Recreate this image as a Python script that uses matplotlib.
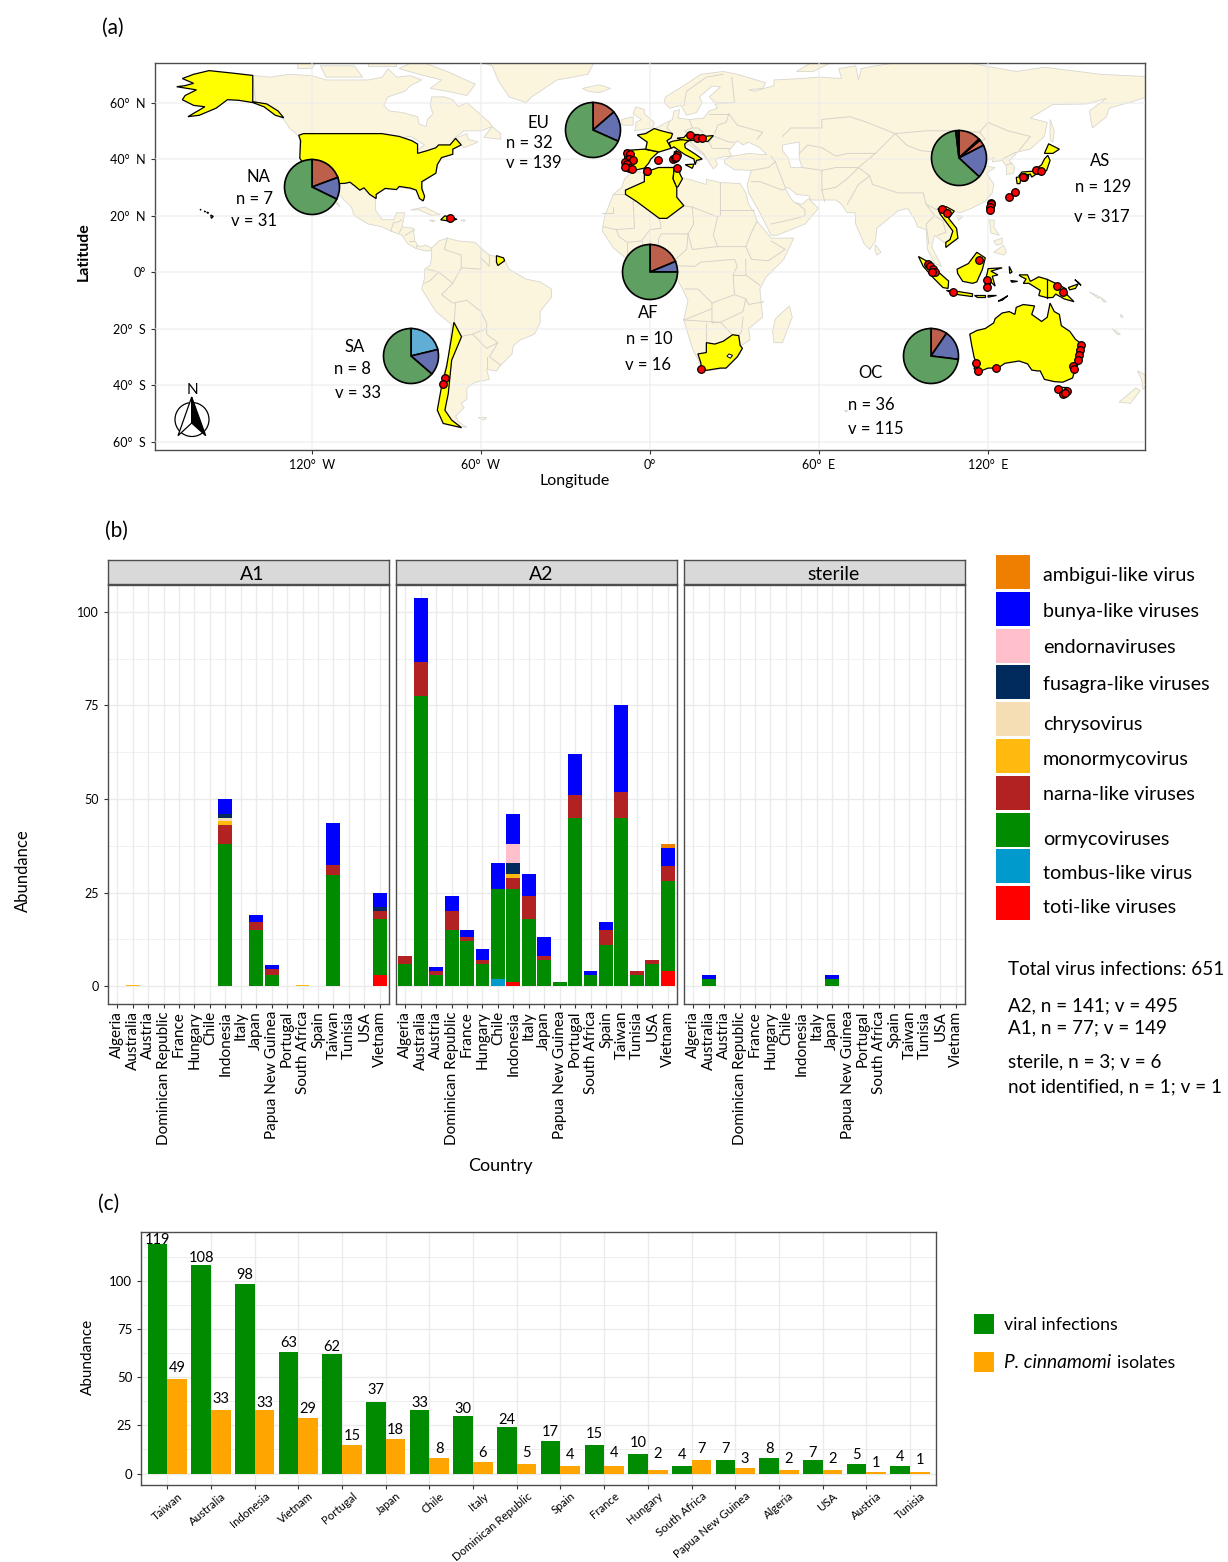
"""Figura (a) mapa, (b) barras empilhadas por mating type, (c) infeccoes x isolados."""
import matplotlib

matplotlib.use("Agg")
import matplotlib.pyplot as plt
import numpy as np
from matplotlib.patches import Circle, Polygon, Rectangle
from matplotlib.transforms import IdentityTransform, ScaledTranslation

plt.rcParams["font.family"] = ["Lato", "DejaVu Sans"]

W, H = 1228, 1562

# ---------- (a) geografia (lon, lat), contornos grosseiros ----------
LAND = [
    # America do Norte
    [(-141,69.6),(-135,69),(-128,70),(-120,69.5),(-115,68),(-108,68),(-100,68),(-95,69),(-93,72),(-90,69),(-85,69.5),(-81,68),(-85,66),(-87,64),(-93,62),(-94.5,59),(-92.5,57),(-88,56.5),(-82.5,55),(-82,52.5),(-79.5,51.5),(-79,54),(-77,56),(-78,59),(-77.5,62),(-73,62),(-70,61),(-68,58.5),(-65,60),(-61,56.5),(-57,53),(-56,51.5),(-60,50),(-66,50),(-70,47),(-65,49),(-64.5,47),(-61,46),(-66,44),(-67,45),(-70,43.5),(-75,40),(-76,35),(-81,31.5),(-80,26),(-81,25),(-83,29),(-89,30),(-94,29.5),(-97.5,27),(-97.5,22),(-95,18.5),(-91,18.5),(-90,21),(-87,21),(-88,16),(-84,15.5),(-83.5,11),(-82,9),(-79.5,9.5),(-77.5,8.5),(-78,7.5),(-80,7.5),(-83,8.3),(-86,10),(-88,13),(-92,14.5),(-95,16),(-100,17),(-105,20),(-106,23),(-109,26),(-112.5,30),(-114.5,31.5),(-113,28),(-110,23),(-112,25),(-115,29),(-117,32.5),(-120.5,34.5),(-124,40),(-124.5,48),(-128,51),(-130,54),(-134,58),(-140,60)],
    # America do Sul
    [(-77.5,8.5),(-75,11),(-72,12),(-68,11),(-62,10.5),(-60,8.5),(-57,6),(-52,5),(-50,1),(-44,-2.5),(-39,-3.5),(-35,-6),(-35,-9),(-39,-14),(-39,-18),(-41,-22),(-46,-24),(-48.5,-26),(-49,-29),(-53,-33),(-54.5,-35),(-58,-34.5),(-57,-38),(-62,-39),(-65,-41),(-65,-45),(-67,-46.5),(-66,-48),(-69,-51),(-68,-53),(-65,-55),(-72,-54),(-75,-50),(-73,-42),(-73.5,-37),(-71.5,-30),(-70.5,-18.5),(-76,-14),(-81,-6),(-80,-2),(-80,1),(-78,2.5),(-77.5,5.5)],
    # Eurasia
    [(-9,43),(-2,43.5),(-1,46),(-4.5,48.5),(1.5,50.5),(4,52),(8,54),(8.5,57),(10.5,57.5),(10,54.5),(14,54),(19,54.5),(21,57),(24,58),(23,59.5),(30,60),(23,60),(21,62),(25,65.5),(22,65.8),(17.5,62),(18.5,60),(16.5,56.5),(13,55.5),(11,59),(7,58),(5,60),(5.5,62),(12,66),(18,70),(26,71),(31,70),(41,67),(40,65),(35,64.5),(37,64),(44,66),(44,68),(54,68.5),(60,69),(68,68.5),(67,72),(73,73),(74,68),(75,72),(80,73),(87,74),(100,76),(113,74),(130,71),(140,72.5),(160,70),(170,69.5),(180,69),(180,65),(178,62.5),(170,60),(163,58),(162,55),(157,51),(156,57),(162,61.5),(155,59.5),(143,59.3),(135,54.5),(141,53),(140,48),(135,43.5),(130.5,42.5),(127.5,39.5),(129.5,37),(129,35),(126.5,34.5),(126.5,37.5),(125,39.5),(121.5,39),(122,40.5),(118,39),(119,37.5),(122.5,37),(119.5,35),(122,31),(121.5,28),(119,25),(114,22.5),(110,21),(108,21.5),(106,19),(109,15),(109,11.5),(105,8.7),(105,10),(101,13),(100,9),(103.5,2),(101,3),(98.5,8),(98,15),(95,16),(94,18.5),(91.5,22.5),(88,21.7),(86,20),(80.5,15.5),(80,11),(78,8),(76,10),(73,17),(72.8,21),(70,21),(68,24),(66,25.5),(57,25.5),(56.5,27),(52,27.5),(49,30),(48,29.5),(50,26),(51.5,24.5),(54,24),(56.3,26),(59.8,22.5),(55,17),(45,13),(43,13),(39,21),(35,28),(34.5,31),(36,36),(30,36.2),(26.5,38.5),(26.5,40),(29,41),(35,42),(41.5,41.5),(39,44),(37,45),(35,46),(33,45),(31,46.5),(28,43),(29,41),(26,40.8),(23,40),(24,38),(22.5,36.5),(19.5,41),(14,45),(12.3,45),(12.5,44),(16,41.5),(18.5,40),(16,38),(15.5,40),(10.5,43),(8,44),(3.5,43),(0,40),(-2,36.8),(-5.5,36),(-9,37)],
    # Africa
    [(-6,35.8),(-2,35.2),(3,37),(10,37.3),(11,33.5),(15,32.5),(20,31),(20,32.8),(25,31.7),(32,31.3),(34,28),(35,24),(37,21),(38,18),(43,12),(51,12),(47.5,4.5),(41,-2),(39,-6),(40,-16),(35,-20),(35.5,-24),(32.5,-26),(32,-29),(27,-34),(20,-35),(18,-33),(15,-27),(12,-17),(13.5,-10),(9,-1),(9.5,4),(4,6.2),(-4,5),(-8,4.5),(-13,8.5),(-17,14.7),(-16,20),(-13,27.5),(-10,30),(-9,33)],
    # ilhas
    [(-72,78),(-55,82),(-25,82),(-20,74),(-22,70),(-33,68),(-42,62),(-44,60),(-50,62),(-54,68),(-56,73),(-65,76)],
    [(-80,74),(-72,71),(-62,66.5),(-65,62.5),(-72,64),(-78,65),(-74,68),(-82,70),(-89,72),(-85,74)],
    [(-117,73),(-105,73),(-102,69),(-115,69)],
    [(-125,75),(-118,75),(-120,72),(-125,72)],
    [(-100,75),(-90,75),(-90,73),(-100,73)],
    [(-59,47.7),(-53,47),(-53,49),(-56,51.5)],
    [(-24,65),(-18,66.3),(-14,65),(-18,63.5),(-22,64)],
    [(-5.5,50),(1,51),(1.5,53),(-2,56),(-2,57.5),(-5,58.5),(-6,56),(-3,54),(-5,53),(-5,51.5)],
    [(-10,52),(-6,52),(-6,55),(-10,54)],
    [(49.5,-12),(50.5,-16),(47,-25),(44,-25),(43.5,-21),(44.5,-16.5)],
    [(80,9.7),(82,7),(80.5,6),(79.8,8)],
    [(173,-35),(178.5,-37.8),(175,-41.5),(174.5,-38)],
    [(172.5,-41),(174,-42),(170.5,-46.5),(166.5,-46)],
    [(120.5,18.5),(122.3,18.3),(122,16),(124,13),(121,13.8)],
    [(122,7),(125.5,9.5),(126.5,7),(125.5,6)],
    [(122,11),(125,12),(125,10),(123,9.5)],
    [(-85,22),(-80,23),(-74.5,20.3),(-77.5,20),(-82,22)],
    [(-78.3,18.4),(-76.3,18.2),(-77,17.8)],
    [(-67.2,18.5),(-65.6,18.4),(-66,17.9)],
    [(52,71),(57,74),(68,76),(58,71)],
    [(142,54),(143.5,50),(143,46),(142,47),(142,52)],
    [(109,20),(111,19.7),(109.5,18.3)],
    [(-61,-51.5),(-58,-51.5),(-59,-52.4)],
    [(69,-49),(70.3,-49),(69.6,-49.6)],
    [(164,-20),(167,-22),(166,-22.2)],
    [(156,-7),(160,-9),(159,-9.3)],
    [(160,-9),(162,-10.5),(161,-10.6)],
    [(167,-15),(168,-16),(167.2,-16)],
    [(177.3,-17.5),(178.6,-18),(177.5,-18.2)],
]
LAKES = [[(47,45),(53,46),(53,40),(54,37),(50,37),(49,40.5),(47,43)],
         [(-92,47),(-85,48),(-80,45),(-84,42),(-87,42),(-85,46)]]
BORDERS = [
    [(-8.7,27.5),(-13,27.5)],[(-16.5,16),(-12,15),(-5.5,15.5),(-6,25),(-4.8,25)],[(-13,23),(-13,21),(-17,21)],
    [(3.3,19),(4,15.5),(0,15),(-3,11),(-8,10.5),(-11,12.5),(-12,15)],[(12,23.5),(15,23),(15.5,17),(13.5,13.5),(4,13.5),(3,11.7)],
    [(25,31.7),(25,20),(24,19.5),(15,23)],[(25,22),(37,22)],[(24,19.5),(22.5,13),(24,9),(15,8),(13.5,13.5)],
    [(24,9),(34,9),(36,14),(38,18)],[(34,9),(36,4.5),(42,4),(48,8),(43,11)],[(3,6.3),(3,11.7)],[(9,4.5),(13,8),(13.5,13.5)],
    [(-3,5),(-3,11)],[(1,6),(0,11)],[(-8,4.5),(-8,10.5)],[(9,2.2),(16,2),(18,3.5),(30,4.5),(31,2),(29.5,-1),(30,-8),(22,-11),(22,-13),(12,-17)],
    [(12.5,-6),(17,-6),(22,-11)],[(34,4.5),(34,-1),(39,-4.7)],[(34,-1),(29.5,-1)],[(40.4,-10.5),(35,-11.5),(34,-9.5),(30,-8)],
    [(22,-13),(22,-18),(25,-17.8),(33,-14),(34,-9.5)],[(12,-17),(25,-17.8)],[(20,-18),(20,-28.5)],[(25,-17.8),(29.3,-22.2)],[(33,-16),(32.5,-21),(31.5,-22.5)],
    [(28,56),(31,52),(40,49.5),(38,47)],[(47,48),(50,51),(61,51),(61,54),(71,55),(77,53),(87,49),(98,50),(107,50),(117,49.5),(120,53),(127,50),(135,48),(131,43)],
    [(53,42),(56,45),(61,44),(66,41),(70,42),(80,42),(87,49)],[(87,49),(91,45),(96,43),(105,42),(112,45),(119,47),(117,49.5)],
    [(74,37),(80,42)],[(74,37),(78,34),(79,31),(88,28),(97,28),(98,24),(102,22)],[(61,29),(62,25)],[(61,29),(66,30),(70,33),(74,37)],[(70,24),(74,31),(78,34)],
    [(61,29),(61,36),(54,37)],[(44.5,39),(46,35),(48,30)],[(36,36),(42,37),(44.5,39),(43,41)],[(36,32),(39,32),(47,29),(48,29.5)],[(52,24.5),(55,22),(55,20),(52,19),(43,17)],
    [(98,24),(101,20),(98,17),(99,10)],[(101,20),(104,18),(105,14),(102,13)],[(125,40),(130,42.5)],[(126.7,38),(128.5,38.5)],[(61,36),(66,37),(74,37)],
    [(28,56),(27,53),(24,52),(23,49)],[(14,54),(15,51),(17,51),(18.8,49.5)],[(7,53.3),(6,51),(8,49)],[(15,51),(12.3,50),(13.8,48.7)],[(21,56),(28,56)],
    [(23,48),(28,46),(30,46)],[(22,44),(28,44)],[(22.5,48.3),(21,46),(22,44)],[(13.7,46.5),(19,42),(20,40)],[(30,60),(29,69)],[(12,59),(13,64),(20,69),(26,70)],
    [(-72,12),(-73,8),(-67,6),(-67,1.5)],[(-60,5),(-60,1),(-67,1.5),(-70,-4),(-74,-8),(-70,-11),(-65,-10),(-60,-14),(-58,-18),(-58,-22),(-54,-25),(-57,-30),(-53,-33)],
    [(-79,1),(-75,0),(-78,-3),(-80,-4)],[(-75,0),(-70,-4)],[(-60,8.5),(-60,5),(-57,2),(-57,6)],[(-69,-11),(-69.5,-18)],[(-68,-23),(-63,-22),(-58,-20)],
    [(-63,-22),(-58,-27),(-54,-25)],[(-58,-34),(-58,-30)],[(-92,14.5),(-91,17.5),(-89,17.8),(-88.3,18.5)],[(-89,14),(-88,15.7)],[(-87,13),(-83.5,15)],[(-85.5,11),(-83.7,11)],[(-83,8.5),(-82.7,9.5)],
]
SAMPLED = [
    [(-141,69.6),(-148,70.4),(-156.5,71.3),(-162,70),(-166,68.5),(-162,66.8),(-165,66),(-168,65.6),(-161,64.5),(-165,62.5),(-166,61),(-162,59),(-158,58.5),(-164,55),(-160,55.5),(-154,58),(-152,59.5),(-150,61),(-146,60.8),(-141,60),(-137,58.5),(-133,55.5),(-130,54.6),(-132,57),(-136,59.5),(-141,60.3)],
    [(-124.7,48.4),(-123,49),(-95.2,49),(-89,48),(-84.5,46.5),(-82.5,45.3),(-82.5,42),(-79,43),(-76,44),(-75,45),(-71,45),(-69,47.3),(-67,45),(-70,43.5),(-70,41.7),(-74,40.5),(-75.5,38),(-76,35),(-78,33.8),(-81,32),(-81,29.5),(-80,26.8),(-80.5,25.2),(-81.8,26),(-83,29),(-85,29.7),(-89,30.3),(-90,29.2),(-94,29.6),(-97.2,27.5),(-97.2,26),(-99.5,27.5),(-101.5,29.8),(-103,29),(-104.8,30.5),(-106.5,31.8),(-108.2,31.4),(-111,31.3),(-114.7,32.5),(-117.1,32.5),(-120.5,34.5),(-122.5,37.5),(-124.3,40.3),(-124.2,43),(-124,46.5)],
    [(-155.9,20.2),(-155,19.7),(-155.7,19)],[(-157.3,21.2),(-156.7,21),(-157,20.8)],[(-158.2,21.6),(-157.8,21.4),(-158,21.3)],[(-159.7,22.2),(-159.4,22.1),(-159.5,21.9)],
    [(-74.3,18.5),(-72.8,19.9),(-68.5,18.7),(-71,18)],
    [(-54.5,5.8),(-52,5),(-51.6,4),(-54,2.3),(-54.5,3.5)],
    [(-69.6,-17.8),(-66.9,-22.9),(-70.4,-31.2),(-71.6,-43),(-72.8,-48.9),(-70.4,-52.4),(-66.9,-55.1),(-73.4,-53.6),(-75.5,-48.9),(-74,-40.6),(-72.2,-33.5),(-70.4,-22.9)],
    [(-9,43),(-2,43.5),(3,42.5),(0.3,40),(-0.5,38.5),(-2,36.8),(-5.5,36),(-9,37)],
    [(-1.5,43.5),(-1,46),(-4.5,48.5),(-1.5,49),(1.5,50.8),(4,50),(8,49),(7.5,47.5),(6,46.5),(7.5,43.8),(3.2,42.5)],
    [(6.8,45.8),(8,46.3),(12,47),(13.7,46.5),(12.3,45.3),(12.5,44),(16,41.8),(18.5,40),(16.5,39.5),(16,38),(15.6,40),(12.5,41.5),(10.3,43),(8.5,44.3),(7.5,43.8)],
    [(12.5,38),(15.6,38.2),(15,36.7)],[(8.2,41),(9.7,41),(9.6,39.1),(8.5,39)],[(8.6,42.5),(9.5,43),(9.4,41.5),(8.8,41.6)],
    [(9.6,47.4),(12,47.6),(13,48.7),(17,48.7),(18.8,48),(22.5,48.3),(20.5,46.2),(16.3,46.7),(13.7,46.5),(10.5,47)],
    [(-8.7,27.5),(-8.7,29),(-2,32),(-2,35.2),(3,37),(8.6,37),(8.2,33),(9.5,30),(9.5,26.5),(12,23.5),(6,19),(3.3,19),(-4.8,25)],
    [(8.6,37),(11,37.2),(10.5,35),(11.5,33),(10,30.3),(9.5,30),(8.2,33)],
    [(17,-29),(20,-28.5),(20,-25),(23,-25.5),(26,-24.5),(29.3,-22.2),(31.5,-22.5),(32,-26),(32.8,-27),(31,-30),(27,-34),(25,-34),(20,-34.8),(18.3,-34),(18,-32)],
    [(102.2,22.4),(105,23.2),(108,21.6),(106,19),(108.8,15.5),(109.3,12),(107,10.3),(105,8.7),(105,10.5),(106.5,11.5),(107.5,14.5),(104.5,18.5),(103,20.5)],
    [(130.9,34),(132,35.4),(136,35.7),(139,38),(140,40),(141.2,41.3),(142,39.5),(140.8,36),(139.7,35),(137,34.6),(135.5,33.6),(135,34.7),(132,34)],
    [(140,42),(141.5,45.4),(145.3,43.5),(143,42)],[(130,33.5),(131.8,33.8),(131.3,31.3),(130.3,31.3)],[(132.5,33.5),(134.5,34.2),(134.2,33.3),(133,32.8)],
    [(121.5,25.2),(121,22.3),(120.2,23)],
    [(95.3,5.5),(98,4),(103.5,-1),(106,-3.2),(105.8,-5.8),(104,-5.5),(100.5,-2),(97,2)],
    [(105.2,-6.5),(108.7,-6.8),(114.5,-7.7),(114.4,-8.7),(108,-7.8)],
    [(109,1),(113,3),(116,7),(119,5),(118,1),(116,-3.5),(114.5,-4),(111,-3.3),(109.2,-0.5)],
    [(120,1.2),(125,1.5),(121,0.3),(123.5,-1),(121.5,-1.5),(122.5,-5),(121,-3.5),(120.5,-5.5),(119.5,-5.5),(119,-3),(119.8,0)],
    [(127.5,2),(128.5,0),(127.7,-0.5)],[(128,-3),(130.5,-3.3),(128.5,-3.6)],[(115,-8.3),(119,-8.3),(119,-9),(116,-9)],[(120,-8.3),(123,-8.3),(120,-8.9)],[(123.6,-10.3),(127,-8.4),(125,-10)],
    [(131,-1),(134,-1),(135,-3.3),(138,-1.7),(141,-2.6),(145,-4.5),(147.8,-6),(147,-7),(150.5,-10.5),(147,-9.5),(144,-7.8),(143,-9),(141,-9.1),(138,-8.3),(138.5,-6.5),(134.5,-4),(132.5,-4),(133.5,-2.5),(131.5,-1.5)],
    [(148.5,-5.5),(152,-4.2),(151,-5.8),(149,-6.3)],[(150.8,-2.7),(153,-4.7),(152,-3.6)],
    [(114.2,-26),(113.5,-22),(116,-20.7),(119,-20),(122,-18),(122.5,-16.5),(125,-14.5),(127.5,-14),(129.5,-15),(130,-12.5),(132.5,-11.5),(136.5,-12),(135.5,-15),(139,-17.5),(141,-16),(142,-11),(143.5,-14),(145.3,-15),(146,-19),(149,-21),(151,-23.8),(153.2,-25.5),(153.5,-28.5),(152.5,-32),(151,-34),(150,-37.5),(146.5,-39),(143.5,-38.8),(140,-38),(138.5,-35),(137.5,-35),(135.5,-34.7),(134,-32.5),(131,-31.5),(126,-32.3),(123.5,-34),(120,-34),(117.5,-35),(115,-34.3),(115.7,-32),(115,-30)],
    [(144.7,-40.8),(148.3,-40.9),(148,-43),(146.5,-43.6),(145.5,-42.5)],
]
LESOTHO = [(28,-29),(29.3,-29.5),(28.5,-30.5),(27.3,-29.8)]
PNG_BORDER = [(141,-2.6),(141,-9.1)]

site_lon = [14.2,16.6,18.5,2.8,8.3,8.9,9.5,9.2,9.7,-0.9,18.2,103.5,105.3,98.8,99.4,100.6,101.3,100,107.5,116.9,119.5,119.7,144.3,146.5,121.2,120.9,120.6,120.6,129.4,127.5,136.9,138.7,132.7,132.4,152.9,152.8,152.1,151.8,150.3,150.5,115.6,116.5,122.8,144.9,146.7,148.1,147.4,-8.3,-7,-7.6,-6.2,-8.9,-8.3,-7.6,-6.3,-8.9,-1,-70.9,-72.8,-73.4]
site_lat = [48.4,47.3,47.3,39.6,39.9,40.5,41.4,40.6,36.9,35.7,-34.2,22.4,21,2.8,2.1,0.9,0.1,0.1,-7.2,4.1,-2.8,-5.2,-5.1,-7.1,24.6,24,23.2,22.1,28.5,26.7,36,35.9,33.6,33.7,-26,-27.6,-29.5,-31.3,-33.3,-34.2,-32.1,-34.9,-33.9,-41.5,-43,-42,-42.7,42,41.8,40.1,39.5,39,38.2,37,36.5,37.3,35.6,19.3,-37.4,-39.7]

map_xticks = [-120, -60, 0, 60, 120]
map_xlabels = ["120°  W", "60°  W", "0°", "60°  E", "120°  E"]
map_yticks = [60, 40, 20, 0, -20, -40, -60]
map_ylabels = ["60°  N", "40°  N", "20°  N", "0°", "20°  S", "40°  S", "60°  S"]

C_GREEN, C_BLUE, C_BROWN, C_SKY = "#5F9F61", "#6470B0", "#BC5F4B", "#60AED6"
pie_vals = {
    "NA": [6, 4, 21],
    "EU": [19, 25, 95],
    "AS": [41, 3, 11, 62, 194, 6],
    "AF": [3, 1, 12],
    "SA": [7, 5, 21],
    "OC": [11, 20, 84],
}
pie_cols = {
    "NA": [C_BROWN, C_BLUE, C_GREEN],
    "EU": [C_BROWN, C_BLUE, C_GREEN],
    "AS": [C_BROWN, "#222222", "#D9694F", C_BLUE, C_GREEN, "#111111"],
    "AF": [C_BROWN, C_BLUE, C_GREEN],
    "SA": [C_SKY, C_BLUE, C_GREEN],
    "OC": [C_BROWN, C_BLUE, C_GREEN],
}
pie_pos = {"NA": (312, 187), "EU": (593, 130), "AS": (959, 158),
           "AF": (650, 272), "SA": (411, 356), "OC": (931, 356)}
region_txt = [
    ("EU", 538, 122), ("n = 32", 529, 142), ("v = 139", 534, 162),
    ("NA", 258, 176), ("n = 7", 254, 198), ("v = 31", 254, 219),
    ("AS", 1100, 160), ("n = 129", 1103, 185), ("v = 317", 1102, 215),
    ("SA", 355, 345), ("n = 8", 352, 368), ("v = 33", 358, 392),
    ("AF", 648, 311), ("n = 10", 649, 338), ("v = 16", 648, 363),
    ("OC", 870, 371), ("n = 36", 871, 403), ("v = 115", 876, 427),
]

# ---------- (b) ----------
countries_b = ["Algeria", "Australia", "Austria", "Dominican Republic", "France", "Hungary", "Chile",
               "Indonesia", "Italy", "Japan", "Papua New Guinea", "Portugal", "South Africa", "Spain",
               "Taiwan", "Tunisia", "USA", "Vietnam"]
virus_names = ["ambigui-like virus", "bunya-like viruses", "endornaviruses", "fusagra-like viruses",
               "chrysovirus", "monormycovirus", "narna-like viruses", "ormycoviruses",
               "tombus-like virus", "toti-like viruses"]
virus_cols = ["#EE7F00", "#0000FF", "#FFC0CB", "#002B5C", "#F5DEB3", "#FFB90F", "#B22222",
              "#008B00", "#009ACD", "#FF0000"]
# incremento de cada virus por pais (ordem de countries_b)
A1 = {
    "toti-like viruses":    [0,0,0,0,0,0,0,0,0,0,0,0,0,0,0,0,0,3],
    "tombus-like virus":    [0]*18,
    "ormycoviruses":        [0,0,0,0,0,0,0,38,0,15,3,0,0,0,29.6,0,0,15],
    "narna-like viruses":   [0,0,0,0,0,0,0,5,0,2,1.5,0,0,0,2.8,0,0,2],
    "monormycovirus":       [0,0.25,0,0,0,0,0,1,0,0,0,0,0.25,0,0,0,0,0],
    "chrysovirus":          [0,0,0,0,0,0,0,1,0,0,0,0,0,0,0,0,0,0],
    "fusagra-like viruses": [0,0,0,0,0,0,0,1,0,0,0,0,0,0,0,0,0,1],
    "endornaviruses":       [0]*18,
    "bunya-like viruses":   [0,0,0,0,0,0,0,4,0,2,1,0,0,0,11.1,0,0,4],
    "ambigui-like virus":   [0]*18,
}
A2 = {
    "toti-like viruses":    [0,0,0,0,0,0,0,1,0,0,0,0,0,0,0,0,0,4],
    "tombus-like virus":    [0,0,0,0,0,0,2,0,0,0,0,0,0,0,0,0,0,0],
    "ormycoviruses":        [6,77.5,3,15,12,6,24,25,18,7,1,45,3,11,45,3,6,24],
    "narna-like viruses":   [2,9,1,5,1,1,0,3,6,1,0,6,0,4,7,1,1,4],
    "monormycovirus":       [0,0,0,0,0,0,0,1,0,0,0,0,0,0,0,0,0,0],
    "chrysovirus":          [0]*18,
    "fusagra-like viruses": [0,0,0,0,0,0,0,3,0,0,0,0,0,0,0,0,0,0],
    "endornaviruses":       [0,0,0,0,0,0,0,5,0,0,0,0,0,0,0,0,0,0],
    "bunya-like viruses":   [0,17.2,1,4,2,3,7,8,6,5,0,11,1,2,23,0,0,5],
    "ambigui-like virus":   [0,0,0,0,0,0,0,0,0,0,0,0,0,0,0,0,0,1],
}
STERILE = {
    "ormycoviruses":      [0,2,0,0,0,0,0,0,0,2,0,0,0,0,0,0,0,0],
    "bunya-like viruses": [0,1,0,0,0,0,0,0,0,1,0,0,0,0,0,0,0,0],
}
stack_order = ["toti-like viruses", "tombus-like virus", "ormycoviruses", "narna-like viruses",
               "monormycovirus", "chrysovirus", "fusagra-like viruses", "endornaviruses",
               "bunya-like viruses", "ambigui-like virus"]
legend_text_y = [574, 610, 646, 683, 723, 758, 793, 838, 872, 906]
summary = [("Total virus infections: 651", 968), ("A2, n = 141; v = 495", 1004), ("A1, n = 77; v = 149", 1026),
           ("sterile, n = 3; v = 6", 1060), ("not identified, n = 1; v = 1", 1085)]

# ---------- (c) ----------
countries_c = ["Taiwan", "Australia", "Indonesia", "Vietnam", "Portugal", "Japan", "Chile", "Italy",
               "Dominican Republic", "Spain", "France", "Hungary", "South Africa", "Papua New Guinea",
               "Algeria", "USA", "Austria", "Tunisia"]
infections = [119, 108, 98, 63, 62, 37, 33, 30, 24, 17, 15, 10, 4, 7, 8, 7, 5, 4]
isolates = [49, 33, 33, 29, 15, 18, 8, 6, 5, 4, 4, 2, 7, 3, 2, 2, 1, 1]
# altura dos rotulos (os rotulos foram afastados a mao no original)
infections_label_y = [121.2, 111.9, 102.9, 67.5, 65.5, 43.4, 36.6, 33.5, 27.6, 21.6, 20.7, 15.9, 9.8, 12.8, 12.8, 10.5, 9.7, 8.8]
isolates_label_y = [54.7, 38.7, 36.6, 33.3, 19.7, 22.6, 12.6, 10.5, 10.7, 9.8, 10.9, 10, 12.8, 7.6, 7.8, 7.8, 5.7, 6.9]

GRID = "#EBEBEB"
EDGE = "#4D4D4D"

fig = plt.figure(figsize=(W / 100, H / 100), dpi=100, facecolor="white")


def fx(x):
    return x / W


def fy(y):
    return 1 - y / H


def add_axes_px(left, top, right, bottom):
    return fig.add_axes([fx(left), fy(bottom), (right - left) / W, (bottom - top) / H])


def ftext(x, y, s, size=12, ha="center", **kw):
    # +2 px: o centro do Lato fica um pouco acima do centro
    if kw.get("rotation") == 90:
        x += 2
    else:
        y += 1.5
    return fig.text(fx(x), fy(y), s, fontsize=size, ha=ha, va="center", **kw)


def moldura(ax):
    for s in ax.spines.values():
        s.set_color(EDGE)
        s.set_linewidth(1.0)


# ---------- mapa ----------
ax = add_axes_px(155, 63, 1145, 450)
ax.set_xlim(-175.7, 175.7)
ax.set_ylim(-63, 74)
for poly in LAND:
    ax.add_patch(Polygon(poly, closed=True, fc="#FCF5DE", ec="#D8D6CE", lw=0.6, zorder=2))
for poly in LAKES:
    ax.add_patch(Polygon(poly, closed=True, fc="white", ec="#D8D6CE", lw=0.6, zorder=2.1))
for line in BORDERS:
    xs, ys = zip(*line)
    ax.plot(xs, ys, color="#D5D3CB", lw=0.7, zorder=2.2)
for poly in SAMPLED:
    ax.add_patch(Polygon(poly, closed=True, fc="#FFFF00", ec="black", lw=0.9, zorder=3))
ax.add_patch(Polygon(LESOTHO, closed=True, fc="white", ec="black", lw=0.7, zorder=3.1))
ax.plot(*zip(*PNG_BORDER), color="black", lw=0.9, zorder=3.1)
ax.set_xticks(map_xticks, map_xlabels, fontsize=9)
ax.set_yticks(map_yticks, map_ylabels, fontsize=9)
ax.tick_params(length=3, width=0.8, color="#333333", labelcolor="black")
ax.grid(color=GRID, lw=1.1, alpha=0.65, zorder=3.2)
ax.set_axisbelow(False)
ax.scatter(site_lon, site_lat, s=30, c="#FF0000", edgecolors="black", linewidths=0.9, zorder=5)
moldura(ax)

for reg, (cx, cy) in pie_pos.items():
    r = 27.5
    pa = add_axes_px(cx - r, cy - r, cx + r, cy + r)
    pa.pie(pie_vals[reg], colors=pie_cols[reg], startangle=90, counterclock=False, radius=1,
           wedgeprops=dict(edgecolor="black", linewidth=1.2))
    pa.set_xlim(-1, 1)
    pa.set_ylim(-1, 1)
    pa.patch.set_alpha(0)
    for w in pa.patches:
        w.set_clip_on(False)

for s, x, y in region_txt:
    ftext(x, y, s, size=12)

# rosa dos ventos
to_fig = fig.transFigure
ftext(192, 389, "N", size=11)
fig.add_artist(Circle((192, H - 419.5), 17, fc="none", ec="black", lw=0.9, transform=IdentityTransform()))
fig.add_artist(Polygon([(fx(191.7), fy(397)), (fx(178), fy(435.7)), (fx(191.7), fy(423))], closed=True,
                       fc="white", ec="black", lw=0.9, transform=to_fig))
fig.add_artist(Polygon([(fx(191.7), fy(397)), (fx(205.7), fy(435.7)), (fx(191.7), fy(423))], closed=True,
                       fc="black", ec="black", lw=0.9, transform=to_fig))

ftext(575, 480, "Longitude", size=11.5)
ftext(82, 252, "Latitude", size=11.5, rotation=90, fontweight="bold")
ftext(113, 26, "(a)", size=15)
ftext(116, 529, "(b)", size=15)
ftext(109, 1202, "(c)", size=15)

# ---------- facetas ----------
panels = [("A1", A1, 108, 389, 252), ("A2", A2, 396, 677, 541), ("sterile", STERILE, 684, 965, 834)]
x_b = np.arange(len(countries_b))
for i, (nome, dados, left, right, strip_x) in enumerate(panels):
    a = add_axes_px(left, 585, right, 1004)
    a.set_xlim(-0.6, 17.6)
    a.set_ylim(-4.8, 107.2)
    base = np.zeros(len(countries_b))
    for virus in stack_order:
        if virus not in dados:
            continue
        vals = np.array(dados[virus], dtype=float)
        cor = virus_cols[virus_names.index(virus)]
        a.bar(x_b, vals, 0.9, bottom=base, color=cor, linewidth=0, zorder=3)
        base += vals
    a.set_xticks(x_b, countries_b, rotation=90, fontsize=11, ha="center", va="top")
    desloca_b = ScaledTranslation(3 / 100, 0, fig.dpi_scale_trans)
    for lab in a.get_xticklabels():
        lab.set_transform(lab.get_transform() + desloca_b)
    a.set_yticks([0, 25, 50, 75, 100])
    a.set_yticks([12.5, 37.5, 62.5, 87.5], minor=True)
    a.grid(which="major", color=GRID, lw=1.0, zorder=0)
    a.grid(which="minor", axis="y", color=GRID, lw=0.5, zorder=0)
    a.set_axisbelow(True)
    a.tick_params(axis="x", length=3, width=0.8, color="#333333", pad=2)
    a.tick_params(axis="y", which="minor", length=0)
    if i == 0:
        a.tick_params(axis="y", labelsize=9, length=3, width=0.8, color="#333333")
    else:
        a.tick_params(axis="y", which="major", length=0, labelleft=False)
    moldura(a)
    strip = add_axes_px(left, 560, right, 584)
    strip.set_facecolor("#D9D9D9")
    strip.set_xticks([])
    strip.set_yticks([])
    moldura(strip)
    ftext(strip_x, 573, nome, size=14)

ftext(21, 871, "Abundance", size=12, rotation=90)
ftext(500, 1165, "Country", size=13)

for k, (nome, cor) in enumerate(zip(virus_names, virus_cols)):
    top = 555 + 36.8 * k
    fig.add_artist(Rectangle((fx(996), fy(top + 34)), 34 / W, 34 / H, fc=cor, ec="none", transform=to_fig))
    ftext(1043, legend_text_y[k], nome, size=14.2, ha="left")
for s, y in summary:
    ftext(1008, y, s, size=13.6, ha="left")

# ---------- (c) ----------
c = add_axes_px(141.3, 1232, 936, 1485)
x_c = np.arange(len(countries_c))
c.set_xlim(-0.595, 17.595)
c.set_ylim(-5.9, 125.2)
c.bar(x_c - 0.225, infections, 0.45, color="#008B00", linewidth=0, zorder=3)
c.bar(x_c + 0.225, isolates, 0.45, color="#FFA500", linewidth=0, zorder=3)
for xi, v, ly in zip(x_c, infections, infections_label_y):
    c.text(xi - 0.225, ly, str(v), ha="center", va="center", fontsize=10.5, zorder=4)
for xi, v, ly in zip(x_c, isolates, isolates_label_y):
    c.text(xi + 0.225, ly, str(v), ha="center", va="center", fontsize=10.5, zorder=4)
c.set_yticks([0, 25, 50, 75, 100])
c.set_yticks([12.5, 37.5, 62.5, 87.5, 112.5], minor=True)
c.grid(which="major", color=GRID, lw=1.0, zorder=0)
c.grid(which="minor", axis="y", color=GRID, lw=0.6, zorder=0)
c.set_axisbelow(True)
c.tick_params(axis="both", which="major", length=3, width=0.8, color="#333333", labelsize=9.5)
c.tick_params(axis="x", pad=1)
c.tick_params(axis="y", which="minor", length=0)
c.set_xticks(x_c, countries_c, rotation=40, ha="right", rotation_mode="anchor", fontsize=8.2)
# no original o fim do rotulo passa um pouco do tick
desloca = ScaledTranslation(10 / 100, 0, fig.dpi_scale_trans)
for lab in c.get_xticklabels():
    lab.set_transform(lab.get_transform() + desloca)
moldura(c)
ftext(86, 1357, "Abundance", size=11, rotation=90)

fig.add_artist(Rectangle((fx(974), fy(1334)), 20 / W, 20 / H, fc="#008B00", ec="none", transform=to_fig))
fig.add_artist(Rectangle((fx(974), fy(1372)), 20 / W, 20 / H, fc="#FFA500", ec="none", transform=to_fig))
ftext(1004, 1324, "viral infections", size=12.7, ha="left")
ftext(1004, 1361, "P. cinnamomi", size=13.8, ha="left", fontstyle="italic")
ftext(1117, 1361, "isolates", size=12.7, ha="left")

fig.savefig("out.png", dpi=100)
